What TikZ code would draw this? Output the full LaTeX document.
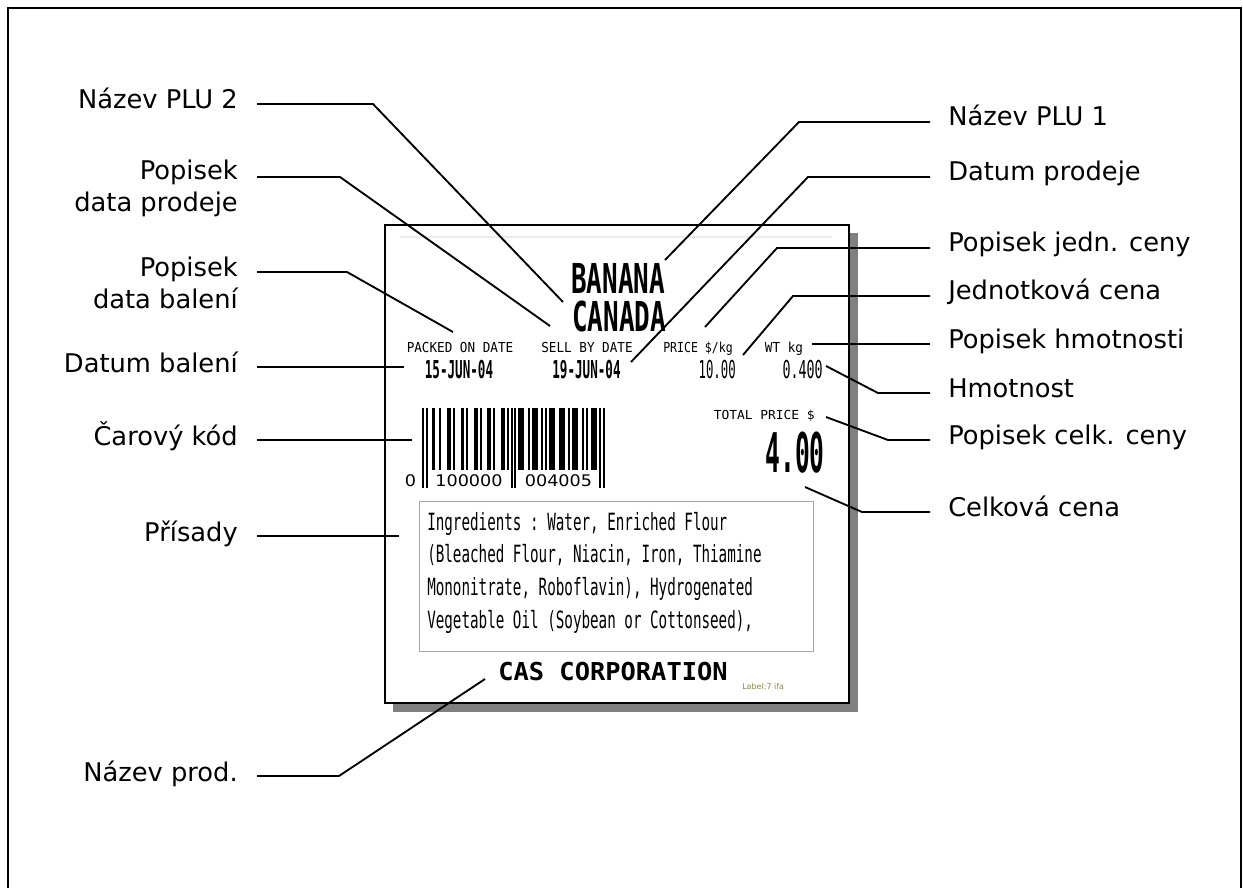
\documentclass[tikz,border=0pt]{standalone}
\usepackage{fontspec}
\setmainfont{DejaVu Sans}
\setmonofont{DejaVu Sans Mono}
\usepackage{graphicx}

\newcommand{\cnd}[2]{\scalebox{#1}[1]{#2}}

\begin{document}
\begin{tikzpicture}[x=0.75pt, y=-0.75pt,
  lbl/.style={font=\fontsize{19.3}{24}\selectfont, inner sep=0pt},
  lead/.style={line width=1.4pt},
  prt/.style={inner sep=0pt, font=\ttfamily\fontsize{#1}{#1}\selectfont}]
\useasboundingbox (0,0) rectangle (1243,888);
\draw[line width=1.5pt] (8,895) -- (8,8) -- (1241,8) -- (1241,895);

% label sheet
\fill[gray] (393,233) rectangle (858,712);
\draw[line width=1.5pt, fill=white] (385,225) rectangle (849,703);
\draw[gray!15, line width=1pt] (400,237) -- (832,237);

\node[prt=30.9, anchor=base] (banana) at (618,293) {\bfseries\cnd{0.63}{BANANA}};
\node[prt=30.9, anchor=base] (canada) at (619,331) {\bfseries\cnd{0.63}{CANADA}};
\node[prt=10.3, anchor=base] (packhd) at (460,352) {\cnd{0.92}{PACKED ON DATE}};
\node[prt=10.3, anchor=base] (sellhd) at (587,352) {\cnd{0.92}{SELL BY DATE}};
\node[prt=10.3, anchor=base] (pricehd) at (698,352) {\cnd{0.84}{PRICE \$/kg}};
\node[prt=10.3, anchor=base] (wthd) at (784,352) {\cnd{0.92}{WT kg}};
\node[prt=18.5, anchor=base] (packdt) at (459,378) {\bfseries\cnd{0.51}{15-JUN-04}};
\node[prt=18.5, anchor=base] (selldt) at (586.5,378) {\bfseries\cnd{0.51}{19-JUN-04}};
\node[prt=18.5, anchor=base east] (price) at (736,378) {\cnd{0.5}{10.00}};
\node[prt=18.5, anchor=base east] (wt) at (823,378) {\cnd{0.54}{0.400}};
\node[prt=9.3, anchor=base east] (tothd) at (815,419) {\cnd{1.04}{TOTAL PRICE \$}};
\node[prt=41, anchor=base east] (tot) at (825,472) {\bfseries\cnd{0.45}{4.00}};

% barcode 0 100000 004005
\foreach \b [count=\i] in {2,0,2, 0,0,1,1,0,0,1, 0,0,0,1,1,0,1, 0,0,0,1,1,0,1,
    0,0,0,1,1,0,1, 0,0,0,1,1,0,1, 0,0,0,1,1,0,1, 0,2,0,2,0,
    1,1,1,0,0,1,0, 1,1,1,0,0,1,0, 1,0,1,1,1,0,0, 1,1,1,0,0,1,0,
    1,1,1,0,0,1,0, 1,0,0,1,1,1,0, 2,0,2}{
  \ifnum\b=1 \fill (422+1.926*\i-1.926,408) rectangle ++(1.926,62); \fi
  \ifnum\b=2 \fill (422+1.926*\i-1.926,408) rectangle ++(1.926,80); \fi
}
\node[font=\fontsize{12}{12}\selectfont, inner sep=0pt, anchor=base] (bc0) at (410.5,486) {\cnd{1.1}{0}};
\node[font=\fontsize{12}{12}\selectfont, inner sep=0pt, anchor=base] (bc1) at (469,486) {\cnd{1.1}{100000}};
\node[font=\fontsize{12}{12}\selectfont, inner sep=0pt, anchor=base] (bc2) at (558.5,486) {\cnd{1.1}{004005}};

\draw[gray!70, line width=0.6pt] (419,501) rectangle (813,651);
\node[anchor=base west, align=left, inner sep=0pt, font=\ttfamily\fontsize{17.8}{24.5}\selectfont] (ingrtxt) at (427,628)
  {\cnd{0.6}{Ingredients : Water, Enriched Flour}\\
   \cnd{0.6}{(Bleached Flour, Niacin, Iron, Thiamine}\\
   \cnd{0.6}{Mononitrate, Roboflavin), Hydrogenated}\\
   \cnd{0.6}{Vegetable Oil (Soybean or Cottonseed),}};
\node[prt=18.5, anchor=base] (cas) at (613,680) {\bfseries\cnd{1.03}{CAS CORPORATION}};
\node[font=\fontsize{6}{6}\selectfont, text=olive!50!gray, inner sep=0pt, anchor=base west] (lblid) at (742,689) {Label:7 ifa};

% tips of the leaders
\coordinate (tPLU2) at (563,302);
\coordinate (tSellHd) at (550,326);
\coordinate (tPackHd) at (453,332);
\coordinate (tPackDt) at (404,367);
\coordinate (tBar) at (412,440);
\coordinate (tIngr) at (399,536);
\coordinate (tMaker) at (485,679);
\coordinate (tPLU1) at (665,260);
\coordinate (tSellDt) at (631,362);
\coordinate (tPriceHd) at (705,327);
\coordinate (tPrice) at (743,355);
\coordinate (tWtHd) at (812,344);
\coordinate (tWt) at (826,366);
\coordinate (tTotHd) at (826,417);
\coordinate (tTot) at (805,487);

% left captions
\node[lbl, anchor=base east] (cPLU2) at (238,109) {Název PLU 2};
\node[lbl, anchor=base east, align=right] (cSellHd) at (238,212) {Popisek\\data prodeje};
\node[lbl, anchor=base east, align=right] (cPackHd) at (238,308) {Popisek\\data balení};
\node[lbl, anchor=base east] (cPackDt) at (238,372) {Datum balení};
\node[lbl, anchor=base east] (cBar) at (238,445) {Čarový kód};
\node[lbl, anchor=base east] (cIngr) at (238,541) {Přísady};
\node[lbl, anchor=base east] (cMaker) at (238,781) {Název prod.};

% right captions
\node[lbl, anchor=base west] (cPLU1) at (948,126) {Název PLU 1};
\node[lbl, anchor=base west] (cSellDt) at (948,181) {Datum prodeje};
\node[lbl, anchor=base west] (cPriceHd) at (948,252) {Popisek jedn. ceny};
\node[lbl, anchor=base west] (cPrice) at (948,300) {Jednotková cena};
\node[lbl, anchor=base west] (cWtHd) at (948,348) {Popisek hmotnosti};
\node[lbl, anchor=base west] (cWt) at (948,397) {Hmotnost};
\node[lbl, anchor=base west] (cTotHd) at (948,444) {Popisek celk. ceny};
\node[lbl, anchor=base west] (cTot) at (948,516) {Celková cena};

% leaders
\draw[lead] ([shift={(19,-5)}]cPLU2.base east) -- ++(116,0) -- (tPLU2);
\draw[lead] ([shift={(19,-35)}]cSellHd.base east) -- ++(83,0) -- (tSellHd);
\draw[lead] ([shift={(19,-36)}]cPackHd.base east) -- ++(90,0) -- (tPackHd);
\draw[lead] ([shift={(19,-5)}]cPackDt.base east) -- (tPackDt);
\draw[lead] ([shift={(19,-5)}]cBar.base east) -- (tBar);
\draw[lead] ([shift={(19,-5)}]cIngr.base east) -- (tIngr);
\draw[lead] ([shift={(19,-5)}]cMaker.base east) -- ++(82,0) -- (tMaker);
\draw[lead] ([shift={(-18,-4)}]cPLU1.base west) -- ++(-131,0) -- (tPLU1);
\draw[lead] ([shift={(-18,-4)}]cSellDt.base west) -- ++(-122,0) -- (tSellDt);
\draw[lead] ([shift={(-18,-4)}]cPriceHd.base west) -- ++(-153,0) -- (tPriceHd);
\draw[lead] ([shift={(-18,-4)}]cPrice.base west) -- ++(-137,0) -- (tPrice);
\draw[lead] ([shift={(-18,-4)}]cWtHd.base west) -- (tWtHd);
\draw[lead] ([shift={(-18,-4)}]cWt.base west) -- ++(-52,0) -- (tWt);
\draw[lead] ([shift={(-18,-4)}]cTotHd.base west) -- ++(-42,0) -- (tTotHd);
\draw[lead] ([shift={(-18,-4)}]cTot.base west) -- ++(-68,0) -- (tTot);
\end{tikzpicture}
\end{document}
